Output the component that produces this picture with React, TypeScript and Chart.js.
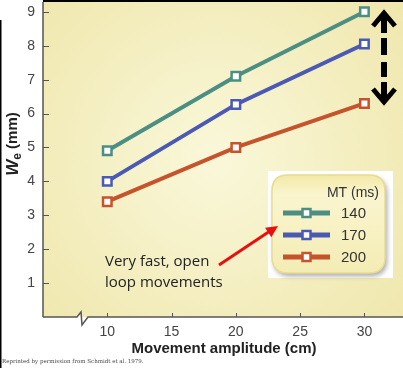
import React, { useEffect, useRef } from "react";
import { Chart, registerables } from "chart.js";

Chart.register(...registerables);

const amplitudes = [10, 20, 30];
const mtLabels = ["140", "170", "200"];
const we140 = [4.9, 7.1, 9.0];
const we170 = [4.0, 6.27, 8.05];
const we200 = [3.4, 5.0, 6.3];
const seriesColors = ["#4b8e84", "#4a5ab4", "#c5532c"];
const xTicks = [10, 15, 20, 25, 30];
const yTicks = [1, 2, 3, 4, 5, 6, 7, 8, 9];

const FONT = "'Liberation Sans', Arial, sans-serif";

const drawPlugin = {
  id: "decor",
  afterLayout(chart: any) {
    const a = chart.chartArea;
    a.top = 2;
    a.bottom = 317;
    a.left = 43;
    a.right = 403;
    a.width = a.right - a.left;
    a.height = a.bottom - a.top;
    const y = chart.scales.y;
    y.top = a.top;
    y.bottom = a.bottom;
    y.height = a.height;
    y.left = 0;
    y.right = a.left;
    y.width = a.left;
    y.configure();
    const x = chart.scales.x;
    x.left = a.left;
    x.right = a.right;
    x.width = a.width;
    x.top = a.bottom;
    x.bottom = chart.height;
    x.height = chart.height - a.bottom;
    x.configure();
  },
  beforeDraw(chart: any) {
    const { ctx, chartArea: a } = chart;
    ctx.save();
    ctx.fillStyle = "#ffffff";
    ctx.fillRect(0, 0, chart.width, chart.height);
    const g = ctx.createRadialGradient(215, 160, 10, 215, 160, 260);
    g.addColorStop(0, "#f9f7d8");
    g.addColorStop(1, "#efe6aa");
    ctx.fillStyle = g;
    ctx.fillRect(a.left, a.top, a.right - a.left, a.bottom - a.top);
    ctx.restore();
  },
  beforeDatasetsDraw(chart: any) {
    const { ctx, chartArea: a, scales } = chart;
    const xs = scales.x;
    const ys = scales.y;
    ctx.save();
    ctx.strokeStyle = "#555";
    ctx.lineWidth = 1.5;
    ctx.beginPath();
    ctx.moveTo(a.left, a.top);
    ctx.lineTo(a.left, a.bottom);
    ctx.stroke();
    const b = a.bottom;
    ctx.fillStyle = "#ffffff";
    ctx.beginPath();
    ctx.moveTo(77, b);
    ctx.lineTo(81, b - 5);
    ctx.lineTo(82, b + 8);
    ctx.lineTo(88, b);
    ctx.closePath();
    ctx.fill();
    ctx.beginPath();
    ctx.moveTo(a.left, b);
    ctx.lineTo(77, b);
    ctx.lineTo(81, b - 5);
    ctx.lineTo(82, b + 8);
    ctx.lineTo(88, b);
    ctx.lineTo(a.right, b);
    ctx.stroke();
    ctx.lineWidth = 1;
    for (const v of xTicks) {
      const px = Math.round(xs.getPixelForValue(v)) + 0.5;
      ctx.beginPath();
      ctx.moveTo(px, b);
      ctx.lineTo(px, b - 4);
      ctx.stroke();
    }
    for (const v of yTicks) {
      const py = Math.round(ys.getPixelForValue(v)) + 0.5;
      ctx.beginPath();
      ctx.moveTo(a.left, py);
      ctx.lineTo(a.left + 6, py);
      ctx.stroke();
    }
    ctx.restore();
  },
  afterDraw(chart: any) {
    const { ctx, chartArea: a, data } = chart;
    ctx.save();
    ctx.fillStyle = "#000";
    ctx.fillRect(a.left, 0, chart.width - a.left, 2);
    ctx.fillRect(0, 20, 1.5, chart.height - 20);

    ctx.fillStyle = "#222";
    ctx.font = `bold 15px ${FONT}`;
    ctx.textAlign = "center";
    ctx.textBaseline = "middle";
    ctx.fillText("Movement amplitude (cm)", 224, 349);

    ctx.save();
    ctx.translate(13, 144);
    ctx.rotate(-Math.PI / 2);
    ctx.textAlign = "left";
    ctx.font = `bold italic 17px ${FONT}`;
    const wW = ctx.measureText("W").width;
    ctx.font = `bold 12px ${FONT}`;
    const eW = ctx.measureText("e").width;
    ctx.font = `bold 15px ${FONT}`;
    const rest = " (mm)";
    const rW = ctx.measureText(rest).width;
    let sx = -(wW + eW + rW) / 2;
    ctx.font = `bold italic 17px ${FONT}`;
    ctx.fillText("W", sx, 0);
    sx += wW;
    ctx.font = `bold 12px ${FONT}`;
    ctx.fillText("e", sx, 5);
    sx += eW;
    ctx.font = `bold 15px ${FONT}`;
    ctx.fillText(rest, sx, 0);
    ctx.restore();

    ctx.fillStyle = "#222";
    ctx.font = `15px 'Open Sans', sans-serif`;
    ctx.textAlign = "left";
    ctx.fillText("Very fast, open", 105, 262);
    ctx.fillText("loop movements", 105, 283);

    // dashed double arrow
    ctx.strokeStyle = "#000";
    ctx.lineCap = "butt";
    ctx.lineWidth = 6;
    ctx.beginPath();
    ctx.moveTo(384, 13);
    ctx.lineTo(384, 33);
    ctx.moveTo(384, 38);
    ctx.lineTo(384, 55);
    ctx.moveTo(384, 62);
    ctx.lineTo(384, 77);
    ctx.moveTo(384, 82);
    ctx.lineTo(384, 102);
    ctx.stroke();
    ctx.lineWidth = 5;
    ctx.lineJoin = "miter";
    ctx.beginPath();
    ctx.moveTo(373, 26);
    ctx.lineTo(384, 13);
    ctx.lineTo(395, 26);
    ctx.stroke();
    ctx.beginPath();
    ctx.moveTo(373, 89);
    ctx.lineTo(384, 102);
    ctx.lineTo(395, 89);
    ctx.stroke();

    // legend
    ctx.fillStyle = "#ffffff";
    ctx.fillRect(268, 171, 125, 107);
    const rr = (x: number, y: number, w: number, h: number, r: number) => {
      ctx.beginPath();
      ctx.moveTo(x + r, y);
      ctx.lineTo(x + w - r, y);
      ctx.quadraticCurveTo(x + w, y, x + w, y + r);
      ctx.lineTo(x + w, y + h - r);
      ctx.quadraticCurveTo(x + w, y + h, x + w - r, y + h);
      ctx.lineTo(x + r, y + h);
      ctx.quadraticCurveTo(x, y + h, x, y + h - r);
      ctx.lineTo(x, y + r);
      ctx.quadraticCurveTo(x, y, x + r, y);
      ctx.closePath();
    };
    ctx.save();
    ctx.shadowColor = "rgba(0,0,0,0.35)";
    ctx.shadowBlur = 5;
    ctx.shadowOffsetX = 2;
    ctx.shadowOffsetY = 3;
    const lg = ctx.createLinearGradient(0, 175, 0, 273);
    lg.addColorStop(0, "#f3e9a6");
    lg.addColorStop(0.2, "#faf5cf");
    lg.addColorStop(1, "#f4ecb4");
    ctx.fillStyle = lg;
    rr(272, 175, 113, 98, 16);
    ctx.fill();
    ctx.restore();
    ctx.strokeStyle = "#e8dc92";
    ctx.lineWidth = 1.5;
    rr(272, 175, 113, 98, 16);
    ctx.stroke();

    ctx.fillStyle = "#333";
    ctx.font = `14px ${FONT}`;
    ctx.textAlign = "right";
    ctx.fillText("MT (ms)", 379, 193);
    ctx.textAlign = "left";
    data.datasets.forEach((ds: any, i: number) => {
      const yy = 213 + i * 22;
      ctx.strokeStyle = ds.borderColor;
      ctx.lineWidth = 5;
      ctx.beginPath();
      ctx.moveTo(283, yy);
      ctx.lineTo(330, yy);
      ctx.stroke();
      ctx.fillStyle = "#fff";
      ctx.lineWidth = 2.5;
      ctx.fillRect(302.5, yy - 4, 8, 8);
      ctx.strokeRect(302.5, yy - 4, 8, 8);
      ctx.fillStyle = "#333";
      ctx.font = `15px ${FONT}`;
      ctx.fillText(ds.label, 341, yy + 1);
    });

    // red arrow
    ctx.strokeStyle = "#e8100f";
    ctx.fillStyle = "#e8100f";
    ctx.lineWidth = 3;
    ctx.beginPath();
    ctx.moveTo(219, 265);
    ctx.lineTo(270, 231);
    ctx.stroke();
    const ang = Math.atan2(226 - 265, 278 - 219);
    ctx.beginPath();
    ctx.moveTo(278, 226);
    ctx.lineTo(278 - 13 * Math.cos(ang - 0.45), 226 - 13 * Math.sin(ang - 0.45));
    ctx.lineTo(278 - 13 * Math.cos(ang + 0.45), 226 - 13 * Math.sin(ang + 0.45));
    ctx.closePath();
    ctx.fill();

    ctx.fillStyle = "#444";
    ctx.font = `5.5px 'DejaVu Serif', serif`;
    ctx.fillText("Reprinted by permission from Schmidt et al. 1979.", 2, 362);
    ctx.restore();
  },
};

export default function App() {
  const ref = useRef<HTMLCanvasElement>(null);
  useEffect(() => {
    document.body.style.margin = "0";
    const mk = (label: string, vals: number[], color: string) => ({
      label,
      data: amplitudes.map((x, i) => ({ x, y: vals[i] })),
      borderColor: color,
      backgroundColor: color,
      borderWidth: 4,
      pointStyle: "rect",
      pointRadius: 6,
      pointBorderWidth: 2.5,
      pointBackgroundColor: "#ffffff",
      pointBorderColor: color,
      tension: 0,
    });
    const chart = new Chart(ref.current as HTMLCanvasElement, {
      type: "line",
      data: {
        datasets: [
          mk(mtLabels[0], we140, seriesColors[0]),
          mk(mtLabels[1], we170, seriesColors[1]),
          mk(mtLabels[2], we200, seriesColors[2]),
        ],
      },
      plugins: [drawPlugin],
      options: {
        animation: false,
        responsive: false,
        maintainAspectRatio: false,
        layout: { autoPadding: false, padding: { top: 2, right: 0, left: 0, bottom: 0 } },
        plugins: { legend: { display: false }, tooltip: { enabled: false } },
        scales: {
          x: {
            type: "linear",
            min: 5,
            max: 33,
            grid: { display: false, drawTicks: false },
            border: { display: false },
            afterBuildTicks: (s: any) => {
              s.ticks = xTicks.map((v) => ({ value: v }));
            },
            afterFit: (s: any) => {
              s.height = 51;
            },
            ticks: {
              color: "#444",
              font: { family: FONT, size: 14 },
              padding: 7,
              maxRotation: 0,
              autoSkip: false,
            },
          },
          y: {
            type: "linear",
            min: 0,
            max: 9.29,
            grid: { display: false, drawTicks: false },
            border: { display: false },
            afterBuildTicks: (s: any) => {
              s.ticks = yTicks.map((v) => ({ value: v }));
            },
            afterFit: (s: any) => {
              s.width = 43;
            },
            ticks: {
              color: "#444",
              font: { family: FONT, size: 14 },
              padding: 8,
              autoSkip: false,
            },
          },
        },
      } as any,
    });
    return () => chart.destroy();
  }, []);
  return <canvas ref={ref} width={403} height={368} style={{ display: "block" }} />;
}
